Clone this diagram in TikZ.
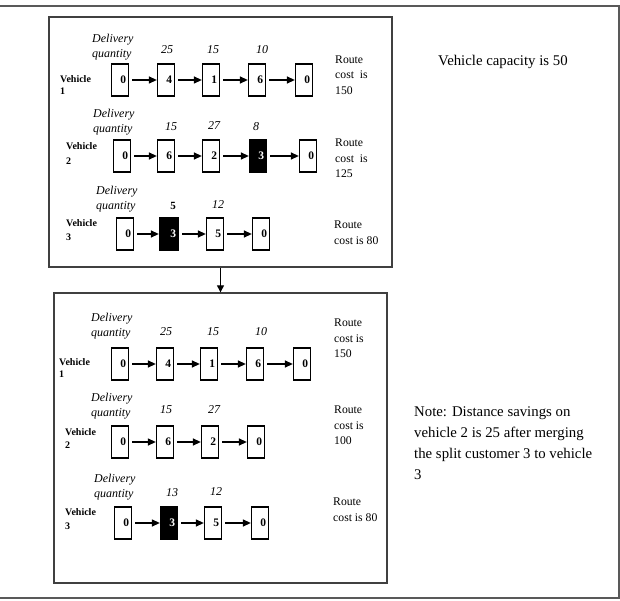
\documentclass[tikz,border=0pt]{standalone}
\usepackage{fontspec}
\setmainfont{Liberation Serif}
\usetikzlibrary{arrows.meta}
\begin{document}
\begin{tikzpicture}[x=1pt,y=-1pt,
  cust/.style={draw=black, line width=1.3pt, text width=12pt, align=right, inner xsep=2.5pt, inner ysep=0pt, minimum height=32pt, font=\fontsize{11.5}{12}\selectfont\bfseries},
  blk/.style={cust, fill=black, text=white},
  flow/.style={-{Triangle[length=8pt,width=7pt]}, line width=1.3pt, shorten <=3pt},
  vlab/.style={anchor=west, align=left, inner sep=0pt, font=\fontsize{10}{12}\selectfont\bfseries},
  dq/.style={anchor=west, align=left, inner sep=0pt, font=\fontsize{12}{15}\selectfont\itshape},
  qty/.style={inner sep=0pt, font=\fontsize{12}{15}\selectfont\itshape},
  rc/.style={anchor=west, align=left, inner sep=0pt, font=\fontsize{11.7}{15.5}\selectfont},
  notetxt/.style={anchor=west, align=left, inner sep=0pt, font=\fontsize{14.8}{21}\selectfont},
  panel/.style={draw=black!75, line width=1.3pt, inner sep=0pt}
]
\useasboundingbox (0,0) rectangle (620,601);
% outer frame
\draw[line width=1.6pt, black!65] (0,6) -- (619,6) -- (619,598) -- (0,598);

% panels
\node[panel, minimum width=343pt, minimum height=250pt] (topbox) at (220.5,142) {};
\node[panel, minimum width=333pt, minimum height=290pt] (botbox) at (220.5,438) {};
\draw[line width=1pt, -{Triangle[length=7pt,width=7pt]}] (topbox.south) -- (botbox.north);

% right texts
\node[notetxt] (cap) at (438,62) {Vehicle capacity is 50};
\node[notetxt] (note) at (414,443) {Note: Distance savings on\\vehicle 2 is 25 after merging\\the split customer 3 to vehicle\\3};

% ===== top panel, vehicle 1
\node[dq] (dq1) at (92,47.5) {Delivery\\quantity};
\node[vlab, font=\fontsize{10}{12}\selectfont\bfseries] (v1) at (60,85) {Vehicle\\1};
\node[qty] at (167,50) {25};
\node[qty] at (213,50) {15};
\node[qty] at (262,50) {10};
\node[cust] (a1) at (120,80) {0};
\node[cust] (a2) at (166,80) {4};
\node[cust] (a3) at (211,80) {1};
\node[cust] (a4) at (257,80) {6};
\node[cust] (a5) at (304,80) {0};
\draw[flow] (a1) -- (a2);
\draw[flow] (a2) -- (a3);
\draw[flow] (a3) -- (a4);
\draw[flow] (a4) -- (a5);
\node[rc] (r1) at (335,75) {Route\\cost\ \ is\\150};

% ===== top panel, vehicle 2
\node[dq] (dq2) at (93,122.5) {Delivery\\quantity};
\node[vlab, font=\fontsize{10}{15}\selectfont\bfseries] (v2) at (66,153.5) {Vehicle\\2};
\node[qty] at (171,127) {15};
\node[qty] at (214,126) {27};
\node[qty] at (256,127) {8};
\node[cust] (b1) at (122,156) {0};
\node[cust] (b2) at (166,156) {6};
\node[cust] (b3) at (211,156) {2};
\node[blk] (b4) at (258,156) {3};
\node[cust] (b5) at (308,156) {0};
\draw[flow] (b1) -- (b2);
\draw[flow] (b2) -- (b3);
\draw[flow] (b3) -- (b4);
\draw[flow] (b4) -- (b5);
\node[rc] (r2) at (335,158.5) {Route\\cost\ \ is\\125};

% ===== top panel, vehicle 3
\node[dq] (dq3) at (96,199) {Delivery\\quantity};
\node[vlab, font=\fontsize{10}{14}\selectfont\bfseries] (v3) at (66,230) {Vehicle\\3};
\node[qty, font=\fontsize{11}{15}\selectfont\bfseries] at (173,206) {5};
\node[qty] at (218,205) {12};
\node[cust] (c1) at (125,234) {0};
\node[blk, text width=14pt] (c2) at (169,234) {3};
\node[cust] (c3) at (215,234) {5};
\node[cust] (c4) at (261,234) {0};
\draw[flow] (c1) -- (c2);
\draw[flow] (c2) -- (c3);
\draw[flow] (c3) -- (c4);
\node[rc] (r3) at (334,232.5) {Route\\cost is 80};

% ===== bottom panel, vehicle 1
\node[dq] (dq4) at (91,326.5) {Delivery\\quantity};
\node[vlab] (v4) at (59,368) {Vehicle\\1};
\node[qty] at (166,332) {25};
\node[qty] at (213,332) {15};
\node[qty] at (261,332) {10};
\node[cust] (d1) at (120,364) {0};
\node[cust] (d2) at (165,364) {4};
\node[cust] (d3) at (209,364) {1};
\node[cust] (d4) at (255,364) {6};
\node[cust] (d5) at (302,364) {0};
\draw[flow] (d1) -- (d2);
\draw[flow] (d2) -- (d3);
\draw[flow] (d3) -- (d4);
\draw[flow] (d4) -- (d5);
\node[rc] (r4) at (334,338.5) {Route\\cost is\\150};

% ===== bottom panel, vehicle 2
\node[dq] (dq5) at (91,406) {Delivery\\quantity};
\node[vlab, font=\fontsize{10}{13}\selectfont\bfseries] (v5) at (65,438.5) {Vehicle\\2};
\node[qty] at (166,410) {15};
\node[qty] at (214,410) {27};
\node[cust] (e1) at (120,442) {0};
\node[cust] (e2) at (165,442) {6};
\node[cust] (e3) at (210,442) {2};
\node[cust] (e4) at (256,442) {0};
\draw[flow] (e1) -- (e2);
\draw[flow] (e2) -- (e3);
\draw[flow] (e3) -- (e4);
\node[rc] (r5) at (334,425.5) {Route\\cost is\\100};

% ===== bottom panel, vehicle 3
\node[dq] (dq6) at (94,487.5) {Delivery\\quantity};
\node[vlab, font=\fontsize{10}{14}\selectfont\bfseries] (v6) at (65,519) {Vehicle\\3};
\node[qty] at (172,493) {13};
\node[qty] at (216,492) {12};
\node[cust] (f1) at (123,523) {0};
\node[blk] (f2) at (169,523) {3};
\node[cust] (f3) at (213,523) {5};
\node[cust] (f4) at (260,523) {0};
\draw[flow] (f1) -- (f2);
\draw[flow] (f2) -- (f3);
\draw[flow] (f3) -- (f4);
\node[rc] (r6) at (333,509.5) {Route\\cost is 80};
\end{tikzpicture}
\end{document}
